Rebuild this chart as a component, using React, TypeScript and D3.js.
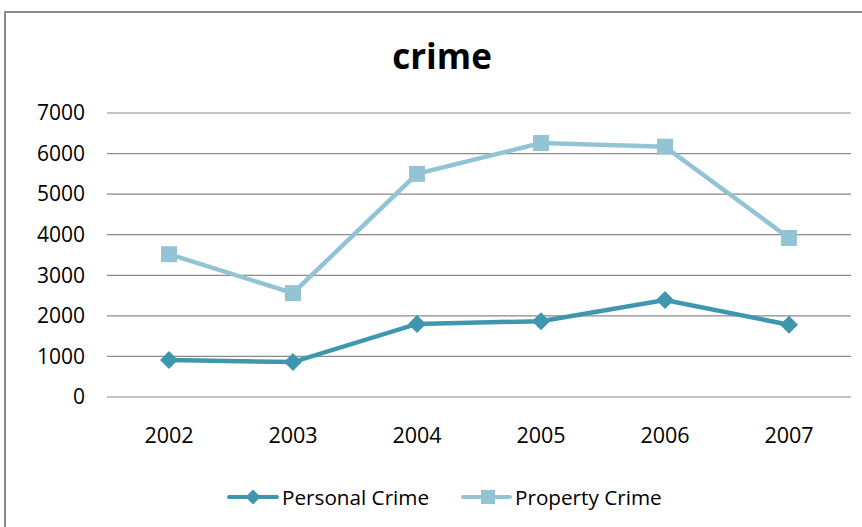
import React from "react";
import * as d3 from "d3";

const years = ["2002", "2003", "2004", "2005", "2006", "2007"];
const personalCrime = [910, 860, 1800, 1870, 2390, 1780];
const propertyCrime = [3520, 2560, 5500, 6260, 6170, 3920];
const yTicks = [0, 1000, 2000, 3000, 4000, 5000, 6000, 7000];
const title = "crime";

const W = 862;
const H = 527;
const FONT = "'Open Sans', sans-serif";

export default function App() {
  const x = d3.scaleBand<string>().domain(years).range([107, 851]);
  const y = d3.scaleLinear().domain([0, 7000]).range([397, 113]);
  const cx = (d: string) => (x(d) ?? 0) + x.bandwidth() / 2;
  const line = d3
    .line<number>()
    .x((_, i) => cx(years[i]))
    .y((v) => y(v));
  const personalColor = "#3f97ae";
  const propertyColor = "#93c4d6";
  const diamond = (px: number, py: number, r: number) =>
    `M${px},${py - r}L${px + r},${py}L${px},${py + r}L${px - r},${py}Z`;

  return (
    <svg
      width={W}
      height={H}
      style={{ position: "absolute", left: 0, top: 0, background: "#fff" }}
      fontFamily={FONT}
    >
      <rect x={5} y={12} width={W + 10} height={H + 10} fill="#fff" stroke="#8c8c8c" strokeWidth={2} />
      <text x={442} y={69} textAnchor="middle" fontSize={35} fontWeight="bold" fill="#000">
        {title}
      </text>
      {yTicks.map((t) => (
        <g key={t}>
          <line x1={107} x2={851} y1={y(t)} y2={y(t)} stroke="#8a8a8a" strokeWidth={1.2} />
          <text x={85} y={y(t)} dy="0.35em" textAnchor="end" fontSize={21} fill="#000">
            {t}
          </text>
        </g>
      ))}
      {years.map((yr) => (
        <text key={yr} x={cx(yr)} y={443} textAnchor="middle" fontSize={21.5} fill="#000">
          {yr}
        </text>
      ))}
      <path d={line(propertyCrime) ?? ""} fill="none" stroke={propertyColor} strokeWidth={4.5} />
      {propertyCrime.map((v, i) => (
        <rect key={i} x={cx(years[i]) - 8} y={y(v) - 8} width={16} height={16} fill={propertyColor} />
      ))}
      <path d={line(personalCrime) ?? ""} fill="none" stroke={personalColor} strokeWidth={4.5} />
      {personalCrime.map((v, i) => (
        <path key={i} d={diamond(cx(years[i]), y(v), 9)} fill={personalColor} />
      ))}
      <g>
        <line x1={229} x2={277} y1={497} y2={497} stroke={personalColor} strokeWidth={4} strokeLinecap="round" />
        <path d={diamond(253, 497, 7.5)} fill={personalColor} />
        <text x={282} y={505} fontSize={20.7} fill="#000">Personal Crime</text>
        <line x1={463} x2={510} y1={497} y2={497} stroke={propertyColor} strokeWidth={4} strokeLinecap="round" />
        <rect x={481} y={490} width={14} height={14} fill={propertyColor} />
        <text x={515} y={505} fontSize={20.7} fill="#000">Property Crime</text>
      </g>
    </svg>
  );
}
